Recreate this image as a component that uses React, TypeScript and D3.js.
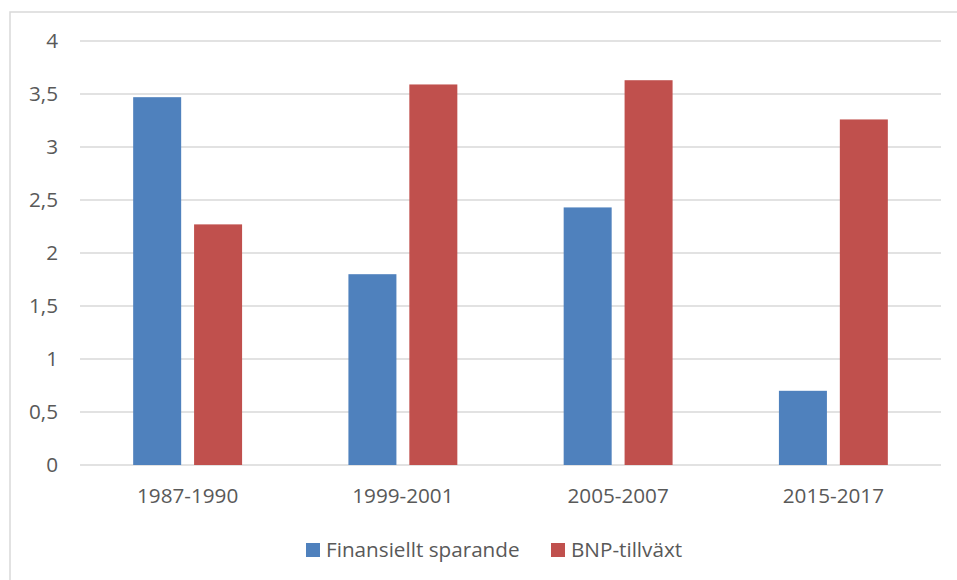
import React from "react";
import * as d3 from "d3";

const categories = ["1987-1990", "1999-2001", "2005-2007", "2015-2017"];
const seriesNames = ["Finansiellt sparande", "BNP-tillväxt"];
const finansielltSparande = [3.47, 1.8, 2.43, 0.7];
const bnpTillvaxt = [2.27, 3.59, 3.63, 3.26];
const yTicks = [0, 0.5, 1, 1.5, 2, 2.5, 3, 3.5, 4];
const colors = ["#4F81BD", "#C0504D"];

const W = 957;
const H = 580;
const plot = { left: 80, right: 941, top: 41, bottom: 465 };
const FONT = "'Open Sans', 'Noto Sans', sans-serif";
const TEXT = "#595959";
const FS = 20.7;

export default function App() {
  const x0 = d3
    .scaleBand<string>()
    .domain(categories)
    .range([plot.left, plot.right])
    .paddingInner(0)
    .paddingOuter(0);
  const y = d3.scaleLinear().domain([0, 4]).range([plot.bottom, plot.top]);
  const bw = x0.bandwidth();
  const barW = bw * 0.223;
  const gap = bw * 0.06;
  const series = [finansielltSparande, bnpTillvaxt];
  const fmt = (v: number) => String(v).replace(".", ",");

  return (
    <svg
      width={W}
      height={H}
      style={{ position: "absolute", left: 0, top: 0, background: "#fff" }}
      fontFamily={FONT}
    >
      <rect x={0} y={0} width={W} height={H} fill="#fff" />
      <rect x={10} y={12} width={W + 20} height={H + 20} fill="none" stroke="#d9d9d9" strokeWidth={1.5} />
      {yTicks.map((t) => (
        <g key={t}>
          <line x1={plot.left} x2={plot.right} y1={y(t)} y2={y(t)} stroke="#d9d9d9" strokeWidth={1.5} />
          <text x={58} y={y(t)} dy="0.35em" textAnchor="end" fontSize={FS} fill={TEXT}>
            {fmt(t)}
          </text>
        </g>
      ))}
      {categories.map((c, i) => {
        const cx = (x0(c) as number) + bw / 2;
        return (
          <g key={c}>
            {series.map((s, j) => {
              const xLeft = j === 0 ? cx - gap / 2 - barW : cx + gap / 2;
              return (
                <rect
                  key={j}
                  x={xLeft}
                  y={y(s[i])}
                  width={barW}
                  height={y(0) - y(s[i])}
                  fill={colors[j]}
                />
              );
            })}
            <text x={cx} y={496} dy="0.35em" textAnchor="middle" fontSize={FS} fill={TEXT}>
              {c}
            </text>
          </g>
        );
      })}
      {seriesNames.map((n, j) => {
        const lx = [306, 551][j];
        return (
          <g key={n}>
            <rect x={lx} y={543} width={14} height={14} fill={colors[j]} />
            <text x={lx + 20} y={550} dy="0.35em" fontSize={FS} fill={TEXT}>
              {n}
            </text>
          </g>
        );
      })}
    </svg>
  );
}
